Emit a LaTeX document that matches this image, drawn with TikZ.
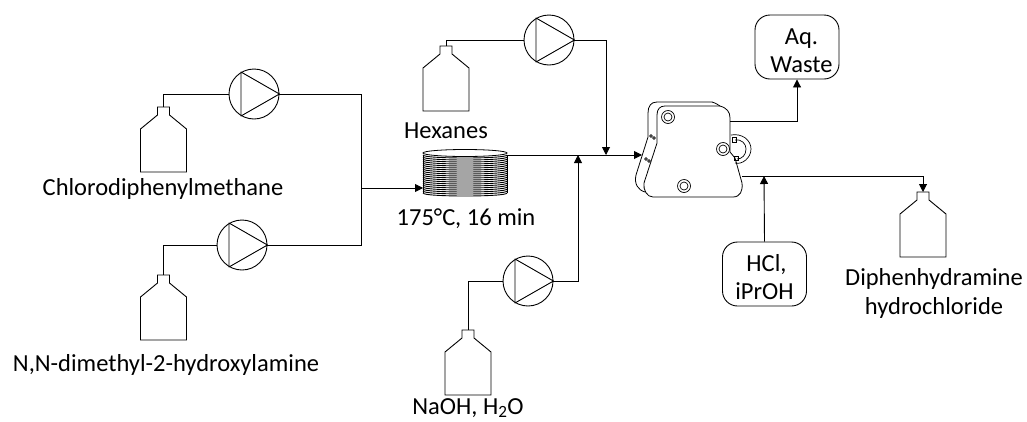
\documentclass[tikz,border=0pt]{standalone}
\usepackage{fontspec}
\setmainfont{Carlito}
\usetikzlibrary{arrows.meta,shapes.geometric}
\tikzset{
  line/.style={draw=black,line width=0.9pt},
  flow/.style={line,-{Triangle[length=8pt,width=8pt]}},
  pumpnode/.style={circle,line,minimum size=50pt,inner sep=0pt},
  label/.style={font=\fontsize{24.5}{29}\selectfont,align=center,inner sep=0pt,text=black},
  vessel/.style={line,rounded corners=15pt,minimum width=84pt,minimum height=64pt,inner sep=0pt,font=\fontsize{24.5}{28}\selectfont,align=center},
  bottle/.pic={
    \draw[line] (-6,8) -- (-6,0) -- (6,0) -- (6,8) -- (23,22) -- (23,65) -- (-23,65) -- (-23,22) -- cycle;
    \coordinate (-top) at (0,0);
  }
}
\newcommand{\pumptri}[1]{\draw[line,line join=round] ([shift={(-13pt,22pt)}]#1.center) -- ([shift={(-13pt,-22pt)}]#1.center) -- (#1.east) -- cycle;}
\begin{document}
\begin{tikzpicture}[x=1pt,y=-1pt]
\useasboundingbox (0,0) rectangle (1027,421);
% bottles
\pic (b1) at (163.5,107) {bottle};
\pic (b2) at (163.5,275) {bottle};
\pic (b3) at (446,46) {bottle};
\pic (b4) at (468,330) {bottle};
\pic (b5) at (923,192) {bottle};
% pumps
\node[pumpnode] (p1) at (254,94) {};
\node[pumpnode] (p2) at (242,245) {};
\node[pumpnode] (p3) at (549,40) {};
\node[pumpnode] (p4) at (528,281) {};
\pumptri{p1}\pumptri{p2}\pumptri{p3}\pumptri{p4}
% coil
\foreach \yy in {155,157,...,193}{
  \draw[black,line width=0.9pt] (423,\yy) .. controls (423,\yy+4) and (507,\yy+4) .. (507,\yy);
}
\draw[black,line width=0.8pt] (423,155) -- (423,193) (507,155) -- (507,193);
\node[draw=black,line width=0.8pt,fill=white,ellipse,minimum width=84pt,minimum height=7pt,inner sep=0pt] (coil) at (465,153) {};
% reactor
\coordinate (rin) at (642,155);
\coordinate (rtop) at (730,121);
\coordinate (rbot) at (742,176);
\draw[black,line width=0.8pt] (712,102) -- (657,102) .. controls (651,102) and (648,106) .. (648,113) -- (648,137) -- (636,175) .. controls (634,184) and (638,190) .. (645,192);
\draw[black,line width=0.8pt] (712,102) .. controls (716,103) and (718,105) .. (720,106);
\draw[line,line width=0.8pt] (665,106) -- (720,106) .. controls (727,108) and (730,112) .. (730,118) -- (730,135) -- (730,152) -- (735,158) -- (742,183) .. controls (743,191) and (740,197) .. (733,197) -- (653,197) .. controls (647,197) and (643,190) .. (644,183) -- (657,143) -- (657,115) .. controls (657,109) and (660,106) .. (665,106) -- cycle;
\foreach \cx/\cy in {668/117,723/149,684/186}{
  \draw[black,line width=0.7pt] (\cx,\cy) circle[radius=6.5pt] (\cx,\cy) circle[radius=4pt];
}
\draw[black,line width=0.7pt] (731,135) .. controls (742,133) and (751,140) .. (751,149) .. controls (751,158) and (742,165) .. (735,163);
\draw[black,line width=0.7pt] (735,140) .. controls (742,139) and (746,144) .. (746,149) .. controls (746,155) and (742,159) .. (737,159);
\draw[black,line width=0.7pt] (732,137) rectangle (736,142) (734,156) rectangle (738,160);
\foreach \cx/\cy in {651/136,654/138,646/159,649/161}{
  \draw[black,line width=0.8pt] (\cx,\cy) circle[radius=1.4pt];
}
% boxes
\node[vessel] (aq) at (797,47) {\rule{0pt}{23pt}\hspace*{9pt}Aq.\\\hspace*{9pt}Waste};
\node[vessel] (hcl) at (764.5,274) {\rule{0pt}{23pt}\hspace*{4pt}HCl,\\iPrOH};
% junctions
\coordinate (j1) at (361,188);
\coordinate (coilin) at (423,188);
\coordinate (coilout) at (507,155);
\coordinate (j3) at (606,155);
\coordinate (j4) at (578,155);
\coordinate (j5) at (764,176);
% connectors
\draw[line] (b1-top) |- (p1.west);
\draw[line] (b2-top) |- (p2.west);
\draw[line] (b3-top) |- (p3.west);
\draw[line] (b4-top) |- (p4.west);
\draw[line] (p1.east) -| (j1);
\draw[line] (p2.east) -| (j1);
\draw[flow] (j1) -- (coilin);
\draw[flow] (coilout) -- (rin);
\draw[flow] (p3.east) -| (j3);
\draw[flow] (p4.east) -| (j4);
\draw[flow] (rtop) -| (aq.south);
\draw[flow] (rbot) -| (b5-top);
\draw[flow] (hcl.north) -- (j5);
% labels
\node[label] (l1) at (163,188.5) {Chlorodiphenylmethane};
\node[label] (l2) at (166,365) {N,N-dimethyl-2-hydroxylamine};
\node[label] (l3) at (446,131) {Hexanes};
\node[label] (l4) at (466,219) {175°C, 16 min};
\node[label] (l5) at (468,408) {NaOH, H\textsubscript{2}O};
\node[label] (l6) at (934,293) {Diphenhydramine\\hydrochloride};
\end{tikzpicture}
\end{document}
